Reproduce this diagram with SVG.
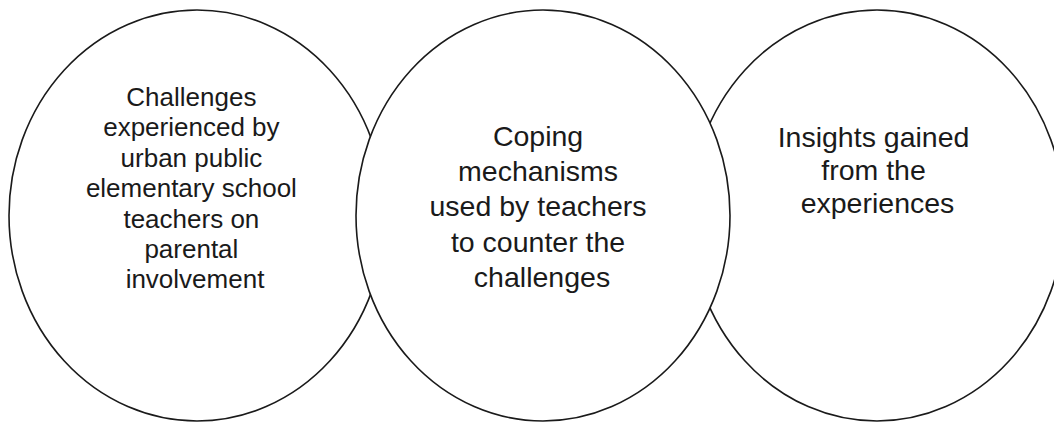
<svg xmlns="http://www.w3.org/2000/svg" width="1054" height="423" viewBox="0 0 1054 423">
<style>
.shape{fill:#ffffff;stroke:#1a1a1a;stroke-width:1.6}
.lbl{font-family:"Liberation Sans",Arial,sans-serif;fill:#1a1a1a;text-anchor:middle}
</style>
<rect x="0" y="0" width="1054" height="423" fill="#ffffff"/>
<g id="node-challenges">
<ellipse class="shape" cx="197" cy="215.5" rx="188" ry="205.5"/>
<text class="lbl" font-size="26">
<tspan x="195" y="106">Challenges</tspan>
<tspan x="195" y="136.4">experienced by</tspan>
<tspan x="195" y="166.8">urban public</tspan>
<tspan x="195" y="197.2">elementary school</tspan>
<tspan x="195" y="227.6">teachers on</tspan>
<tspan x="195" y="258">parental</tspan>
<tspan x="195" y="288.4">involvement</tspan>
</text>
</g>
<g id="node-insights">
<ellipse class="shape" cx="877" cy="215.5" rx="187" ry="205.5"/>
<text class="lbl" font-size="28.5">
<tspan x="877.5" y="146.7">Insights gained</tspan>
<tspan x="877.5" y="180">from the</tspan>
<tspan x="877.5" y="213.3">experiences</tspan>
</text>
</g>
<g id="node-coping">
<ellipse class="shape" cx="543" cy="215.5" rx="187" ry="205.5"/>
<text class="lbl" font-size="28.5">
<tspan x="542" y="145.7">Coping</tspan>
<tspan x="542" y="181">mechanisms</tspan>
<tspan x="542" y="216.3">used by teachers</tspan>
<tspan x="542" y="251.6">to counter the</tspan>
<tspan x="542" y="286.9">challenges</tspan>
</text>
</g>
<g id="connectors"></g>
</svg>
